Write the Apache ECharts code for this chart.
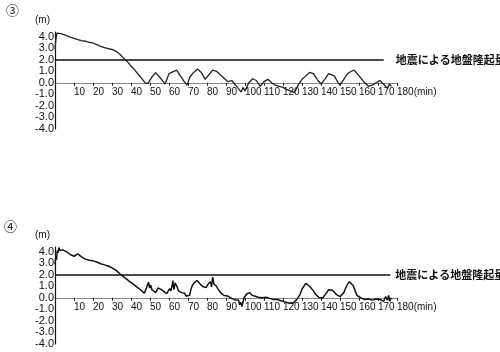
<!DOCTYPE html>
<html>
<head>
<meta charset="utf-8">
<script src="https://cdn.jsdelivr.net/npm/echarts@6/dist/echarts.min.js"></script>
<style>
html,body{margin:0;padding:0;background:#fff;}
#chart{width:500px;height:352px;}
</style>
</head>
<body>
<div id="chart"></div>
<script>
// Water level (m) vs time (min), case ③
const seriesA = [[0,2.9],[0.5,3.8],[1,4.3],[2,4.2],[3,4.25],[4,4.1],[5,4.15],[6,4.0],[8,3.95],[10,3.85],[12,3.75],[14,3.65],[16,3.6],[18,3.5],[20,3.45],[22,3.3],[24,3.15],[26,3.05],[28,2.95],[30,2.9],[32,2.75],[34,2.5],[36,2.15],[38,1.85],[40,1.45],[42,1.1],[44,0.7],[46,0.3],[47.5,0.0],[49,-0.05],[51,0.5],[53,0.88],[55,0.5],[57,0.1],[58,-0.1],[60,0.8],[62,0.95],[64,1.1],[66,0.6],[68,0.1],[69.5,-0.2],[71,0.5],[73,0.9],[75,1.2],[77,0.9],[79,0.3],[81,0.7],[83,1.1],[85,1.0],[87,0.7],[89,0.4],[91,0.1],[93,0.2],[94,0.1],[96,-0.4],[98,-0.8],[99,-0.4],[100,-0.7],[102,0.0],[104,0.35],[106,0.2],[108,-0.3],[110,0.1],[112,0.3],[114,0.0],[116,-0.2],[118,-0.3],[120,-0.4],[122,-0.6],[124,-0.7],[126,-0.85],[127,-0.9],[128,-0.2],[130,0.3],[132,0.6],[134,0.9],[136,0.8],[138,0.3],[140,-0.1],[142,0.3],[144,0.8],[145,0.95],[147,0.6],[149,0.0],[150,-0.2],[152,0.3],[154,0.8],[156,1.0],[157.5,1.1],[159,0.8],[161,0.4],[163,0.0],[165,-0.3],[167,-0.2],[169,0.0],[171,0.2],[172,0.1],[174,-0.3],[175,-0.5],[176,-0.1],[177,-0.3]];
// Water level (m) vs time (min), case ④
const seriesB = [[0,2.9],[0.4,3.5],[0.8,3.3],[1.2,4.1],[1.6,3.9],[2,4.35],[2.6,4.1],[3.2,4.25],[4,4.15],[5,4.1],[6,4.0],[7,3.9],[8,3.75],[9,3.65],[10,3.6],[11,3.75],[12,3.8],[13,3.7],[14,3.55],[15,3.45],[16,3.35],[17,3.3],[18,3.25],[19,3.15],[20,3.2],[21,3.2],[22,3.1],[23,3.0],[24,2.95],[25,2.9],[26,2.85],[27,2.8],[28,2.75],[29,2.7],[30,2.6],[31,2.5],[32,2.4],[33,2.25],[34,2.1],[35,1.95],[37,1.7],[39,1.45],[41,1.2],[43,0.95],[45,0.7],[47,0.4],[47.6,0.35],[48.2,0.9],[48.8,1.0],[49.2,1.35],[49.8,0.85],[50.4,1.1],[51,0.7],[52,0.55],[53,0.45],[53.6,0.6],[54.2,0.85],[55,1.0],[55.6,0.75],[56.4,0.8],[57.2,0.55],[58,0.5],[58.8,0.35],[59.6,0.6],[60.4,0.8],[61,0.6],[61.6,1.0],[62,1.5],[62.6,0.7],[63.2,1.3],[63.8,1.45],[64.4,0.9],[65,0.6],[65.8,0.5],[66.6,0.45],[67.4,0.35],[68.2,0.4],[69,0.15],[70,0.05],[70.8,0.2],[71.6,0.75],[72.4,1.1],[73.2,1.3],[74,1.25],[74.8,1.5],[75.6,1.4],[76.4,1.2],[77.2,1.1],[78,0.95],[78.8,1.05],[79.6,0.9],[80.4,1.15],[81.2,1.0],[81.8,1.4],[82.4,0.95],[83,1.8],[83.6,1.2],[84.2,1.35],[85,1.0],[85.8,0.75],[86.6,0.6],[87.4,0.4],[88.2,0.3],[89,0.2],[90,0.1],[91,0.15],[92,0.0],[93,-0.05],[94,-0.15],[95,-0.2],[96,-0.35],[96.6,-0.2],[97.2,-0.6],[97.8,-0.4],[98.4,-0.75],[99,-0.3],[99.6,0.05],[100.4,0.2],[101,0.35],[101.8,0.3],[102.6,0.45],[103.4,0.25],[104.2,0.35],[105,0.15],[106,0.2],[107,0.05],[108,0.1],[109,0.0],[110,0.15],[111,0.05],[112,0.1],[113,-0.05],[114,0.05],[115,-0.15],[116,-0.05],[117,-0.15],[118,-0.1],[119,-0.25],[120,-0.15],[121,-0.35],[122,-0.3],[123,-0.45],[124,-0.3],[125,-0.5],[126,-0.35],[127,-0.2],[128,-0.1],[129,0.3],[130,0.75],[131,1.0],[132,1.25],[133,1.15],[134,1.0],[135,0.95],[136,0.6],[137,0.35],[138,0.2],[139,0.0],[140,-0.15],[141,0.0],[142,0.15],[143,0.45],[144,0.7],[145,0.55],[146,0.65],[147,0.5],[148,0.3],[149,0.35],[150,0.1],[151,0.15],[152,0.45],[153,0.85],[154,1.2],[155,1.4],[156,1.25],[157,1.05],[158,0.6],[159,0.2],[160,0.05],[161,0.0],[162,-0.1],[163,-0.15],[164,0.0],[165,-0.1],[166,0.05],[167,-0.2],[168,-0.35],[169,-0.1],[170,0.05],[171,-0.15],[172,-0.05],[173,-0.3],[174,0.1],[175,-0.2],[175.6,0.2],[176.2,-0.3],[177,0.0]];
const upliftLevel = 2.0;
const upliftLabel = '地震による地盤隆起量';
const upliftEndA = 173;
const upliftEndB = 176.5;
const panelLabels = ['③', '④'];
const yName = '(m)';
const xUnit = '(min)';

const chart = echarts.init(document.getElementById('chart'), null, {renderer: 'canvas'});
const FONT = 'Liberation Sans';
const Y_MIN = -4, Y_MAX = 4.4, GRID_H = 97;
// distance (px) from grid bottom up to the value 0 line
const zeroOffset = GRID_H * (0 - Y_MIN) / (Y_MAX - Y_MIN);

function xAxis(idx) {
  return {
    type: 'value', gridIndex: idx, min: 0, max: 180, interval: 10,
    position: 'bottom', offset: -zeroOffset,
    axisLine: {onZero: false, lineStyle: {color: '#888', width: 1}},
    axisTick: {show: true, length: 3, lineStyle: {color: '#222'}},
    axisLabel: {
      color: '#111', fontSize: 10, fontFamily: FONT, margin: 4, align: 'left',
      formatter: v => v === 0 ? '' : (v === 180 ? '180' + xUnit : String(v))
    },
    splitLine: {show: false}
  };
}
function yAxis(idx) {
  return {
    type: 'value', gridIndex: idx, min: Y_MIN, max: Y_MAX, interval: 1,
    name: yName, nameLocation: 'end', nameGap: 7,
    nameTextStyle: {color: '#111', fontSize: 10, fontFamily: FONT, align: 'right', padding: [0, 5, 0, 0]},
    axisLine: {onZero: false, lineStyle: {color: '#111', width: 1.2}},
    axisTick: {show: false},
    axisLabel: {
      color: '#111', fontSize: 11, fontFamily: FONT, margin: 1,
      formatter: v => Number.isInteger(Math.round(v * 1000) / 1000) ? v.toFixed(1) : ''
    },
    splitLine: {show: false}
  };
}
function upliftMark(endT, dist) {
  return {
    silent: true, symbol: 'none',
    lineStyle: {color: '#111', width: 1.5, type: 'solid'},
    label: {show: true, position: 'end', distance: dist, formatter: upliftLabel,
      color: '#111', fontSize: 11, fontFamily: 'Noto Sans CJK JP', fontWeight: 'bold'},
    data: [[{coord: [0, upliftLevel]}, {coord: [endT, upliftLevel]}]]
  };
}

chart.setOption({
  animation: false,
  backgroundColor: '#fff',
  grid: [
    {left: 55, top: 32, width: 342, height: GRID_H},
    {left: 55, top: 247, width: 342, height: GRID_H}
  ],
  xAxis: [xAxis(0), xAxis(1)],
  yAxis: [yAxis(0), yAxis(1)],
  graphic: [
    {type: 'text', left: 6, top: 4, style: {text: panelLabels[0], fontSize: 13, fill: '#111', fontFamily: 'Noto Sans CJK JP'}},
    {type: 'text', left: 4, top: 220, style: {text: panelLabels[1], fontSize: 13, fill: '#111', fontFamily: 'Noto Sans CJK JP'}}
  ],
  series: [
    {type: 'line', xAxisIndex: 0, yAxisIndex: 0, data: seriesA, showSymbol: false,
      lineStyle: {color: '#222', width: 1.3}, markLine: upliftMark(upliftEndA, 12)},
    {type: 'line', xAxisIndex: 1, yAxisIndex: 1, data: seriesB, showSymbol: false,
      lineStyle: {color: '#111', width: 1.5}, markLine: upliftMark(upliftEndB, 5)}
  ]
});
</script>
</body>
</html>
